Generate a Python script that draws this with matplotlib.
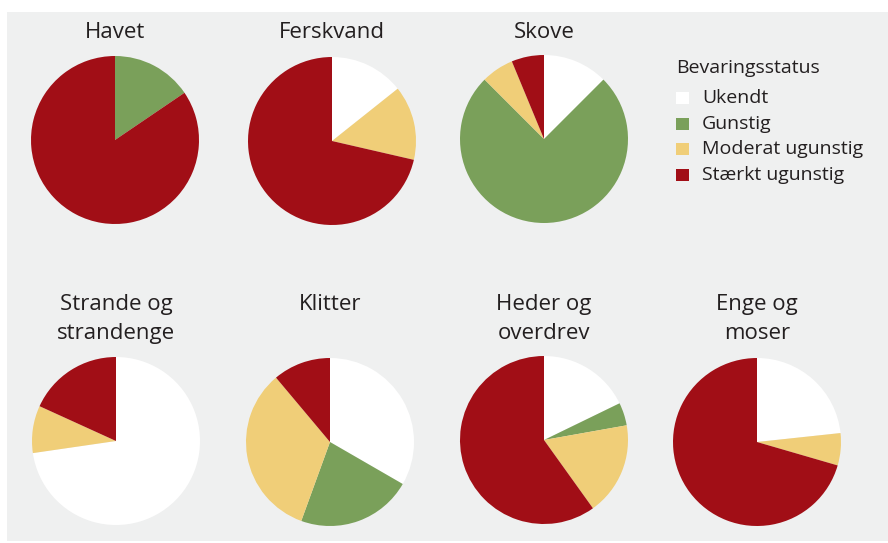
import matplotlib
matplotlib.use("Agg")
import matplotlib.pyplot as plt
from matplotlib.patches import Rectangle

categories = ["Ukendt", "Gunstig", "Moderat ugunstig", "Stærkt ugunstig"]
colors = ["#ffffff", "#7aa05a", "#f0ce78", "#a10e16"]
legend_title = "Bevaringsstatus"

titles = ["Havet", "Ferskvand", "Skove",
          "Strande og\nstrandenge", "Klitter", "Heder og\noverdrev", "Enge og\nmoser"]
havet = [0, 15.5, 0, 84.5]
ferskvand = [14.3, 0, 14.3, 71.4]
skove = [12.5, 75.0, 6.25, 6.25]
strande = [72.7, 0, 9.1, 18.2]
klitter = [33.3, 22.2, 33.3, 11.1]
heder = [17.8, 4.4, 17.9, 59.9]
enge = [23.3, 0, 6.2, 70.5]
series = [havet, ferskvand, skove, strande, klitter, heder, enge]

W, H = 888, 543
fig = plt.figure(figsize=(W / 100, H / 100), dpi=100)
fig.patch.set_facecolor("white")
FONT = ["Open Sans", "DejaVu Sans"]
TXT = "#231f20"

# grey panel
fig.patches.append(Rectangle((7 / W, 2 / H), (W - 7) / W, (H - 12 - 2) / H,
                             transform=fig.transFigure, facecolor="#eff0f0",
                             edgecolor="none", zorder=-5))

centers = [(115, 140), (332, 141), (544, 139),
           (116, 441), (330, 442), (544, 440), (757, 442)]
title_y = [32, 32, 32, 319, 304, 319, 319]
R = 84

for vals, title, (cx, cy), ty in zip(series, titles, centers, title_y):
    ax = fig.add_axes([(cx - R) / W, (H - cy - R) / H, 2 * R / W, 2 * R / H])
    ax.pie(vals, colors=colors, startangle=90, counterclock=False,
           radius=1, wedgeprops=dict(linewidth=0))
    ax.set_xlim(-1, 1)
    ax.set_ylim(-1, 1)
    ax.set_aspect("auto")
    ax.axis("off")
    fig.text(cx / W, 1 - ty / H, title, ha="center", va="center",
             fontsize=16, family=FONT, color=TXT, linespacing=1.45)

# legend
lx, ly0, dy = 676, 98, 25.7
fig.text(lx / W, 1 - 68 / H, legend_title, ha="left", va="center",
         fontsize=14, family=FONT, color=TXT)
for i, (lab, col) in enumerate(zip(categories, colors)):
    y = ly0 + i * dy
    fig.patches.append(Rectangle((lx / W, 1 - (y + 6) / H), 13 / W, 12 / H,
                                 transform=fig.transFigure, facecolor=col,
                                 edgecolor="none", zorder=2))
    fig.text(702 / W, 1 - y / H, lab, ha="left", va="center",
             fontsize=14, family=FONT, color=TXT)

fig.savefig("out.png", dpi=100)
